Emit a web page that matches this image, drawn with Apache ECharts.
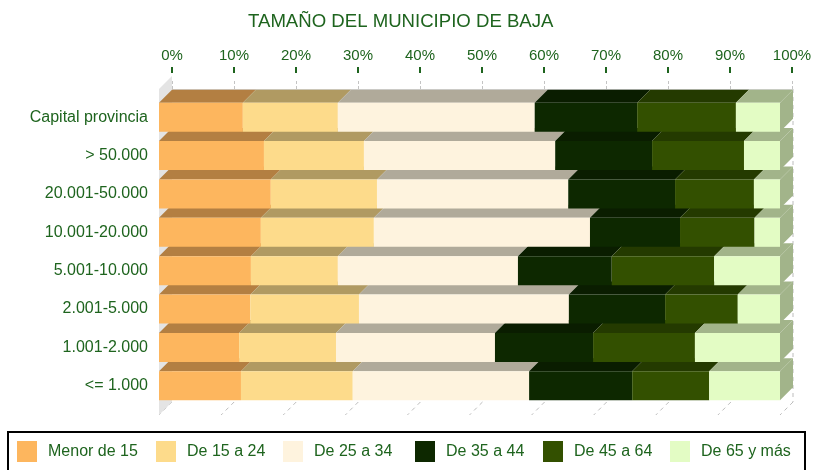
<!DOCTYPE html>
<html>
<head>
<meta charset="utf-8">
<script src="https://cdn.jsdelivr.net/npm/echarts@6/dist/echarts.min.js"></script>
<style>
  html, body { margin: 0; padding: 0; background: #fff; }
  #chart { width: 817px; height: 470px; }
</style>
</head>
<body>
<div id="chart"></div>
<script>
// datos (% por grupo de edad)
const categories = ['Capital provincia', '> 50.000', '20.001-50.000', '10.001-20.000',
  '5.001-10.000', '2.001-5.000', '1.001-2.000', '<= 1.000']
const groups = ['Menor de 15', 'De 15 a 24', 'De 25 a 34', 'De 35 a 44', 'De 45 a 64', 'De 65 y más']

const menor15 = [13.5, 16.9, 18.0, 16.4, 14.8, 14.7, 12.9, 13.2]
const de15a24 = [15.3, 16.1, 17.1, 18.2, 14.0, 17.5, 15.6, 18.0]
const de25a34 = [31.7, 30.8, 30.8, 34.8, 29.0, 33.8, 25.6, 28.4]
const de35a44 = [16.5, 15.6, 17.2, 14.5, 15.1, 15.5, 15.8, 16.6]
const de45a64 = [15.9, 14.8, 12.7, 12.0, 16.5, 11.7, 16.4, 12.4]
const de65mas = [7.1, 5.8, 4.2, 4.1, 10.6, 6.8, 13.7, 11.4]

const pctTicks = [0, 10, 20, 30, 40, 50, 60, 70, 80, 90, 100]

const seriesValues = [menor15, de15a24, de25a34, de35a44, de45a64, de65mas]
const frontColors = ['#FDB65E', '#FDDB8B', '#FEF3DE', '#0D2800', '#335000', '#E3FCC4']
const topColors = ['#B37F42', '#B09A62', '#B0AA9A', '#0A1D00', '#243A00', '#A2B48A']
const sideColor = '#A2B48A'
const green = '#1E641E'
const font = 'Liberation Sans, Arial, sans-serif'

const DEPTH = 13
const BAR_H = 29
// posición x de cada entrada de la leyenda
const legendLeft = [17, 156, 283, 415, 543, 670]

const chart = echarts.init(document.getElementById('chart'))

// series 3D apiladas
const barSeries = groups.map((name, k) => {
  const data = categories.map((c, i) => {
    let start = 0
    for (let j = 0; j < k; j++) start += seriesValues[j][i]
    return [start, start + seriesValues[k][i], i]
  })
  return {
    type: 'custom',
    name,
    xAxisIndex: 0,
    yAxisIndex: 0,
    z: 2,
    itemStyle: { color: frontColors[k] },
    encode: { x: [0, 1], y: 2 },
    data,
    renderItem: (params, api) => {
      const row = api.value(2)
      const p0 = api.coord([api.value(0), row])
      const p1 = api.coord([api.value(1), row])
      const x0 = p0[0], x1 = p1[0]
      const y0 = p0[1] - BAR_H / 2, y1 = p0[1] + BAR_H / 2
      const z2 = (categories.length - row) * 10
      const children = [
        {
          type: 'polygon',
          z2,
          shape: { points: [[x0, y0], [x1, y0], [x1 + DEPTH, y0 - DEPTH], [x0 + DEPTH, y0 - DEPTH]] },
          style: { fill: topColors[k] },
        },
        {
          type: 'rect',
          z2: z2 + 1,
          shape: { x: x0, y: y0, width: x1 - x0, height: BAR_H },
          style: { fill: frontColors[k] },
        },
      ]
      if (k === groups.length - 1) {
        children.push({
          type: 'polygon',
          z2,
          shape: { points: [[x1, y0], [x1 + DEPTH, y0 - DEPTH], [x1 + DEPTH, y1 - DEPTH], [x1, y1]] },
          style: { fill: sideColor },
        })
      }
      return { type: 'group', children }
    },
  }
})

// pared izquierda y marcas del suelo
const frameSeries = {
  type: 'custom',
  name: 'frame',
  xAxisIndex: 0,
  yAxisIndex: 0,
  z: 1,
  silent: true,
  encode: { x: 0 },
  data: pctTicks.map((v) => [v]),
  renderItem: (params, api) => {
    const cs = params.coordSys
    const x = api.coord([api.value(0), 0])[0]
    const yTop = cs.y - 9
    const yBot = cs.y + cs.height + 10
    const children = [
      {
        type: 'line',
        shape: { x1: x + DEPTH, y1: yBot - DEPTH, x2: x, y2: yBot },
        style: { stroke: '#BDBDBD', lineWidth: 1, lineDash: [4, 4] },
      },
    ]
    if (api.value(0) === 0) {
      children.push({
        type: 'polygon',
        shape: { points: [[x, yTop], [x + DEPTH, yTop - DEPTH], [x + DEPTH, yBot - DEPTH], [x, yBot]] },
        style: { fill: '#E4E4E4' },
      })
    }
    if (api.value(0) === 100) {
      children.push({
        type: 'line',
        shape: { x1: x + DEPTH, y1: yTop, x2: x + DEPTH, y2: yBot - DEPTH },
        style: { stroke: '#BDBDBD', lineWidth: 1, lineDash: [4, 4] },
      })
    }
    return { type: 'group', children }
  },
}

const legends = groups.map((name, k) => ({
  data: [name],
  left: legendLeft[k],
  top: 441,
  padding: 0,
  icon: 'rect',
  itemWidth: 20,
  itemHeight: 21,
  textStyle: { color: green, fontSize: 16, fontFamily: font, padding: [0, 0, 0, 6] },
}))

const option = {
  animation: false,
  backgroundColor: '#fff',
  title: {
    text: 'TAMAÑO DEL MUNICIPIO DE BAJA',
    left: 243,
    top: 7,
    textStyle: { color: green, fontSize: 18.6, fontWeight: 'normal', fontFamily: font },
  },
  legend: legends,
  graphic: [
    {
      type: 'rect',
      shape: { x: 8, y: 432, width: 797, height: 60 },
      style: { fill: 'none', stroke: '#000', lineWidth: 2 },
      silent: true,
    },
  ],
  grid: [
    // plano frontal
    { left: 159, right: 37, top: 98, height: 307 },
    // plano trasero (eje superior)
    { left: 172, right: 25, top: 89, height: 313 },
  ],
  xAxis: [
    {
      gridIndex: 0, type: 'value', min: 0, max: 100, show: false,
    },
    {
      gridIndex: 1, type: 'value', min: 0, max: 100, interval: 10, position: 'top',
      axisLine: { show: true, lineStyle: { color: '#D4D4D4', width: 1 } },
      axisTick: { show: true, length: 9, lineStyle: { color: '#C4C4C4', type: [3, 2] } },
      axisLabel: { show: false },
      splitLine: { show: false },
    },
    {
      gridIndex: 1, type: 'value', min: 0, max: 100, interval: 10, position: 'top', offset: 16,
      axisLine: { show: false },
      axisTick: { show: true, length: 6, lineStyle: { color: green, width: 2 } },
      axisLabel: {
        color: green, fontSize: 15, fontFamily: font, margin: 10,
        formatter: (v) => v + '%',
      },
      splitLine: { show: false },
    },
  ],
  yAxis: [
    {
      gridIndex: 0, type: 'category', data: categories, inverse: true,
      axisLine: { show: false },
      axisTick: { show: false },
      axisLabel: { color: green, fontSize: 16, fontFamily: font, margin: 11, padding: [4, 0, 0, 0] },
    },
    {
      gridIndex: 1, type: 'category', data: categories, inverse: true, show: false,
    },
  ],
  series: [frameSeries, ...barSeries],
}

chart.setOption(option)
</script>
</body>
</html>
